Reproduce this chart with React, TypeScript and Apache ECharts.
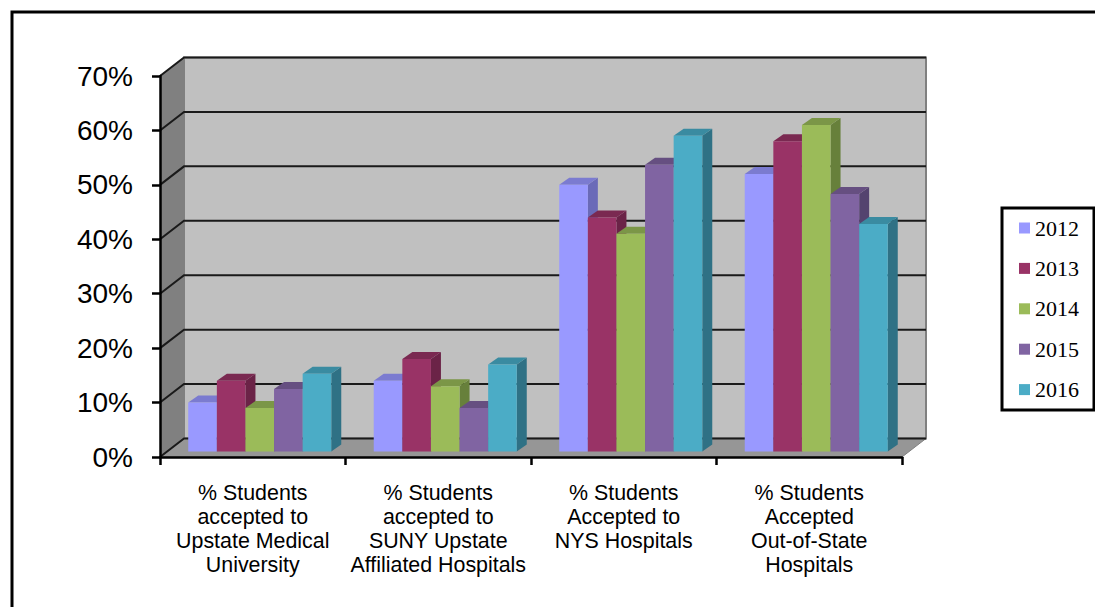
import React, { useEffect, useRef } from "react";
import * as echarts from "echarts";

const categories = [
  "% Students\naccepted to\nUpstate Medical\nUniversity",
  "% Students\naccepted to\nSUNY Upstate\nAffiliated Hospitals",
  "% Students\nAccepted to\nNYS Hospitals",
  "% Students\nAccepted\nOut-of-State\nHospitals",
];
const years = ["2012", "2013", "2014", "2015", "2016"];
const values2012 = [9, 13, 49, 51];
const values2013 = [13, 17, 43, 57];
const values2014 = [8, 12, 40, 60];
const values2015 = [11.5, 8, 52.7, 47.3];
const values2016 = [14.3, 16, 58, 41.8];
const seriesValues = [values2012, values2013, values2014, values2015, values2016];
const gridTicks = [0, 10, 20, 30, 40, 50, 60, 70];

const frontColors = ["#9999FF", "#993366", "#9BBB59", "#8064A2", "#4BACC6"];
const topColors = ["#7B7BD0", "#7A2951", "#7B9647", "#664F81", "#3A8BA1"];
const sideColors = ["#6A6AB8", "#6B2347", "#67803B", "#54436F", "#2F7185"];

const WALL_DX = 24;
const WALL_DY = -18.5;
const BAR_DX = 7;
const BAR_DY = -5.5;
const BAR_DEPTH_X = 10;
const BAR_DEPTH_Y = -7;
const GROUP_RATIO = 0.771;

function wallItem(params: any, api: any) {
  const cs = params.coordSys;
  const value = api.value(1);
  const y = api.coord([0, value])[1];
  const x0 = cs.x;
  const x1 = cs.x + cs.width;
  const children: any[] = [];
  if (params.dataIndex === 0) {
    const yBottom = cs.y + cs.height;
    const yTop = cs.y;
    children.push({
      type: "polygon",
      shape: { points: [[x0, yTop], [x0 + WALL_DX, yTop + WALL_DY], [x0 + WALL_DX, yBottom + WALL_DY], [x0, yBottom]] },
      style: { fill: "#808080" },
    });
    children.push({
      type: "rect",
      shape: { x: x0 + WALL_DX, y: yTop + WALL_DY, width: cs.width, height: cs.height },
      style: { fill: "#C0C0C0", stroke: "#808080", lineWidth: 2 },
    });
    children.push({
      type: "polygon",
      shape: { points: [[x0, yBottom], [x0 + WALL_DX, yBottom + WALL_DY], [x1 + WALL_DX, yBottom + WALL_DY], [x1, yBottom]] },
      style: { fill: "#969696", stroke: "#808080", lineWidth: 1 },
    });
  }
  children.push({
    type: "polyline",
    shape: { points: [[x0, y], [x0 + WALL_DX, y + WALL_DY], [x1 + WALL_DX, y + WALL_DY]] },
    style: { fill: "none", stroke: "#1a1a1a", lineWidth: 2 },
  });
  return { type: "group", children };
}

function barItem(seriesIndex: number) {
  return (_params: any, api: any) => {
    const cat = api.value(0);
    const top = api.coord([cat, api.value(1)]);
    const base = api.coord([cat, 0]);
    const band = api.size([1, 0])[0];
    const w = (band * GROUP_RATIO) / years.length;
    const left = top[0] - (band * GROUP_RATIO) / 2 + seriesIndex * w + BAR_DX;
    const right = left + w;
    const yTop = top[1] + BAR_DY;
    const yBase = base[1] + BAR_DY;
    return {
      type: "group",
      children: [
        {
          type: "polygon",
          shape: { points: [[right, yTop], [right + BAR_DEPTH_X, yTop + BAR_DEPTH_Y], [right + BAR_DEPTH_X, yBase + BAR_DEPTH_Y], [right, yBase]] },
          style: { fill: sideColors[seriesIndex] },
        },
        {
          type: "polygon",
          shape: { points: [[left, yTop], [left + BAR_DEPTH_X, yTop + BAR_DEPTH_Y], [right + BAR_DEPTH_X, yTop + BAR_DEPTH_Y], [right, yTop]] },
          style: { fill: topColors[seriesIndex] },
        },
        {
          type: "rect",
          shape: { x: left, y: yTop, width: w, height: yBase - yTop },
          style: { fill: frontColors[seriesIndex] },
        },
      ],
    };
  };
}

export default function App() {
  const ref = useRef<HTMLDivElement>(null);
  useEffect(() => {
    document.body.style.margin = "0";
    document.body.style.overflow = "hidden";
    const chart = echarts.init(ref.current!, null, { renderer: "svg" });
    chart.setOption({
      animation: false,
      backgroundColor: "#ffffff",
      graphic: [
        {
          type: "rect",
          z: 0,
          silent: true,
          shape: { x: 12, y: 12, width: 1200, height: 700 },
          style: { fill: "none", stroke: "#000000", lineWidth: 3 },
        },
      ],
      legend: {
        data: years,
        orient: "vertical",
        left: 1002,
        top: 208,
        padding: [9, 15, 9.4, 17],
        itemWidth: 11,
        itemHeight: 11,
        itemGap: 18.4,
        icon: "rect",
        borderColor: "#000000",
        borderWidth: 3,
        backgroundColor: "#ffffff",
        selectedMode: false,
        textStyle: { fontFamily: "Liberation Serif", fontSize: 22, color: "#000000", lineHeight: 20 },
      },
      grid: { left: 160, top: 76, width: 742, height: 381, containLabel: false },
      xAxis: {
        type: "category",
        data: categories,
        z: 5,
        axisLine: { lineStyle: { color: "#000000", width: 2.5 } },
        axisTick: { show: true, length: 8, lineStyle: { color: "#000000", width: 2.5 } },
        axisLabel: {
          interval: 0,
          margin: 24,
          color: "#000000",
          fontFamily: "Liberation Sans",
          fontSize: 21.4,
          lineHeight: 24,
          verticalAlign: "top",
        },
        splitLine: { show: false },
      },
      yAxis: {
        type: "value",
        min: 0,
        max: 70,
        interval: 10,
        z: 5,
        axisLine: { show: true, lineStyle: { color: "#000000", width: 2.5 } },
        axisTick: { show: true, length: 8, lineStyle: { color: "#000000", width: 2.5 } },
        axisLabel: {
          formatter: "{value}%",
          margin: 27,
          padding: [4, 0, 0, 0],
          color: "#000000",
          fontFamily: "Liberation Sans",
          fontSize: 28,
        },
        splitLine: { show: false },
      },
      series: [
        {
          type: "custom",
          name: "walls",
          silent: true,
          clip: false,
          renderItem: wallItem,
          data: gridTicks.map((t) => [0, t]),
          encode: { x: 0, y: 1 },
          z: 1,
        },
        ...years.map((year, i) => ({
          type: "custom",
          name: year,
          clip: false,
          itemStyle: { color: frontColors[i] },
          renderItem: barItem(i),
          data: seriesValues[i].map((v, c) => [c, v]),
          encode: { x: 0, y: 1 },
          z: 2,
        })),
      ],
    });
    return () => chart.dispose();
  }, []);
  return <div ref={ref} style={{ width: 1095, height: 607, position: "absolute", left: 0, top: 0 }} />;
}
